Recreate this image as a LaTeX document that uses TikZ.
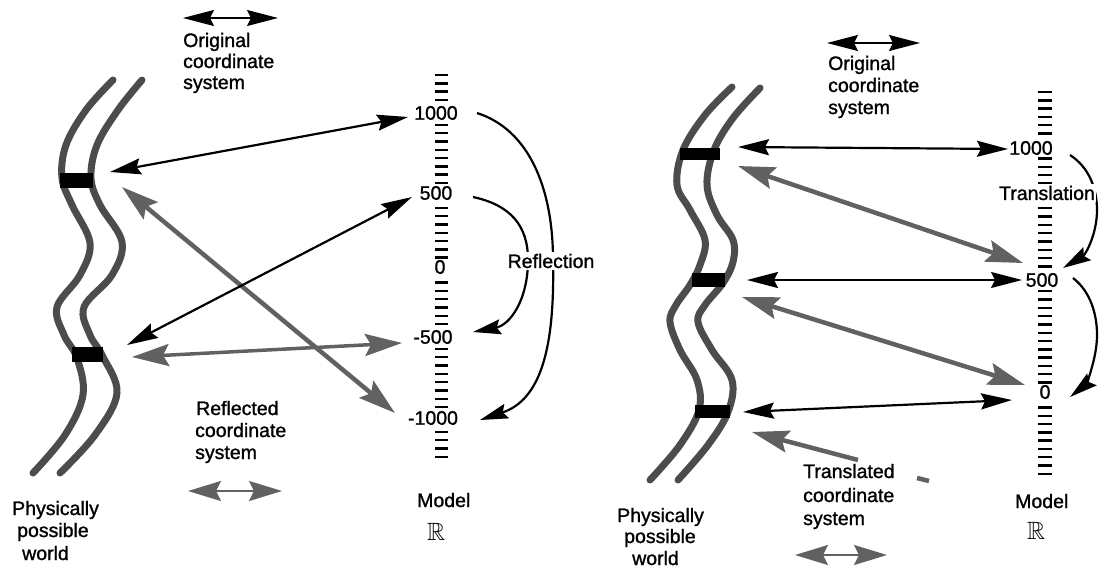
\documentclass[tikz,border=0pt]{standalone}
\usepackage{amssymb}
\usepackage{fontspec}
\setmainfont{Liberation Sans}[RawFeature={embolden=1.2}]
\usetikzlibrary{arrows.meta}
\begin{document}
\begin{tikzpicture}[x=1pt,y=-1pt,
  txt/.style={font=\fontsize{19.5}{21}\selectfont, inner sep=0pt, anchor=base west},
  num/.style={font=\fontsize{19.5}{21}\selectfont, fill=white, inner sep=0.6pt},
  zero/.style={num, minimum width=17pt},
  bb/.style={font=\fontsize{25}{25}\selectfont, inner sep=0pt, anchor=base west},
  strand/.style={line width=7pt, color=black!70, line cap=round},
  tickmark/.style={line width=2.4pt, black},
  blackarrow/.style={black, line width=2.2pt, {Stealth[length=31pt,width=16pt,inset=4pt]}-{Stealth[length=31pt,width=16pt,inset=4pt]}},
  grayarrow/.style={black!62, line width=4.5pt, {Stealth[length=37pt,width=22pt,inset=6pt]}-{Stealth[length=37pt,width=22pt,inset=6pt]}},
  graylegend/.style={black!62, line width=2.2pt, {Stealth[length=33pt,width=20pt,inset=5pt]}-{Stealth[length=33pt,width=20pt,inset=5pt]}},
  curvearrow/.style={black, line width=2.2pt, -{Stealth[length=28pt,width=15pt,inset=4pt]}},
  bar/.style={fill=black}
]
\useasboundingbox (0,0) rectangle (1099,568);

%%%%%%%%%%%%%%%% LEFT: reflection %%%%%%%%%%%%%%%%
% physically possible world
\draw[strand] plot[smooth, tension=0.6] coordinates {(113,80) (86,110) (66,145) (62,178) (72,205) (90,243) (80,275) (57,307) (64,335) (77,358) (83,395) (65,435) (33,473)};
\draw[strand] plot[smooth, tension=0.6] coordinates {(142,80) (118,110) (97,145) (91,178) (100,205) (122,242) (112,275) (84,307) (90,335) (102,355) (117,393) (95,435) (60,473)};
\fill[bar] (60,173) rectangle (93,188);
\fill[bar] (72,347) rectangle (103,362);

% ruler
\foreach \y in {75,83.3,...,462} \draw[tickmark] (435,\y) -- (448,\y);
\node[num] (L1000) at (436,113) {1000};
\node[num] (L500) at (436,193) {500};
\node[zero] (L0) at (440,267) {0};
\node[num] (Lm500) at (433,337) {-500};
\node[num] (Lm1000) at (433,418) {-1000};

\node[txt] (Lmodel) at (417,507) {Model};
\node[bb] (LR) at (427,540) {$\mathbb{R}$};

% arrows world <-> model
\coordinate (wA) at (110,172);  \coordinate (mA) at (408,117);
\coordinate (wB) at (122,187);  \coordinate (mB) at (395,413);
\coordinate (wC) at (127,345);  \coordinate (mC) at (412,197);
\coordinate (wD) at (132,357);  \coordinate (mD) at (402,343);
\draw[grayarrow] (wB) -- (mB);
\draw[blackarrow] (wA) -- (mA);
\draw[blackarrow] (wC) -- (mC);
\draw[grayarrow, line width=3.5pt] (wD) -- (mD);

% reflection curves
\coordinate (r1s) at (477,113); \coordinate (r1m) at (553,260); \coordinate (r1e) at (480,420);
\coordinate (r2s) at (473,197); \coordinate (r2m) at (528,260); \coordinate (r2e) at (473,332);
\draw[curvearrow] (r1s) .. controls (530,130) and (553,190) .. (r1m) .. controls (555,350) and (540,400) .. (r1e);
\draw[curvearrow] (r2s) .. controls (510,205) and (528,225) .. (r2m) .. controls (528,300) and (510,325) .. (r2e);
\node[num, inner sep=1.5pt] (refl) at (551,261) {Reflection};

% legends
\coordinate (oL1) at (183,18); \coordinate (oL2) at (278,18);
\draw[blackarrow, line width=1.8pt] (oL1) -- (oL2);
\node[txt] (Lo1) at (183,47) {Original};
\node[txt] (Lo2) at (183,68) {coordinate};
\node[txt] (Lo3) at (183,89) {system};

\node[txt] (Lr1) at (196,415) {Reflected};
\node[txt] (Lr2) at (195,437) {coordinate};
\node[txt] (Lr3) at (195,459) {system};
\coordinate (rL1) at (188,491); \coordinate (rL2) at (282,491);
\draw[graylegend] (rL1) -- (rL2);

\node[txt] (Lp1) at (12,515) {Physically};
\node[txt] (Lp2) at (17,537) {possible};
\node[txt] (Lp3) at (22,560) {world};

%%%%%%%%%%%%%%%% RIGHT: translation %%%%%%%%%%%%%%%%
\draw[strand] plot[smooth, tension=0.6] coordinates {(732,87) (705,115) (683,150) (677,185) (690,210) (705,240) (700,265) (690,285) (676,305) (670,322) (680,350) (697,380) (699,410) (680,445) (650,480)};
\draw[strand] plot[smooth, tension=0.6] coordinates {(760,88) (733,118) (714,150) (707,185) (717,215) (733,240) (733,262) (723,283) (705,305) (698,322) (712,350) (732,380) (728,412) (708,445) (678,480)};
\fill[bar] (680,148) rectangle (720,160);
\fill[bar] (692,273) rectangle (725,287);
\fill[bar] (695,405) rectangle (730,418);

\foreach \y in {92,100.3,...,478} \draw[tickmark] (1038,\y) -- (1052,\y);
\node[num] (R1000) at (1031,148) {1000};
\node[num] (R500) at (1042,280) {500};
\node[zero] (R0) at (1045,392) {0};

\node[txt] (Rmodel) at (1015,508) {Model};
\node[bb] (RR) at (1027,539) {$\mathbb{R}$};

\coordinate (wE) at (738,147);  \coordinate (mE) at (1008,149);
\coordinate (wF) at (738,166);  \coordinate (mF) at (1023,263);
\coordinate (wG) at (747,280);  \coordinate (mG) at (1022,280);
\coordinate (wH) at (742,297);  \coordinate (mH) at (1025,385);
\coordinate (wI) at (743,412);  \coordinate (mI) at (1012,400);
\coordinate (wJ) at (752,432);  \coordinate (tJ) at (858,460);
\draw[grayarrow] (wF) -- (mF);
\draw[grayarrow] (wH) -- (mH);
\draw[blackarrow] (wE) -- (mE);
\draw[blackarrow] (wG) -- (mG);
\draw[blackarrow] (wI) -- (mI);
\draw[black!62, line width=4.5pt, {Stealth[length=37pt,width=22pt,inset=6pt]}-] (wJ) -- (tJ);
\draw[black!62, line width=4.5pt] (917,478) -- (929,481);

% translation curves
\coordinate (t1s) at (1070,155); \coordinate (t1m) at (1097,210); \coordinate (t1e) at (1063,268);
\coordinate (t2s) at (1073,278); \coordinate (t2m) at (1097,335); \coordinate (t2e) at (1070,397);
\draw[curvearrow] (t1s) .. controls (1090,168) and (1097,190) .. (t1m) .. controls (1097,235) and (1085,255) .. (t1e);
\draw[curvearrow] (t2s) .. controls (1091,292) and (1097,315) .. (t2m) .. controls (1097,360) and (1085,385) .. (t2e);
\node[num, inner sep=1.5pt] (transl) at (1047,193) {Translation};

% legends
\coordinate (oR1) at (827,43); \coordinate (oR2) at (920,43);
\draw[blackarrow, line width=1.8pt] (oR1) -- (oR2);
\node[txt] (Ro1) at (828,70) {Original};
\node[txt] (Ro2) at (828,92) {coordinate};
\node[txt] (Ro3) at (828,114) {system};

\node[txt] (Rt1) at (803,478) {Translated};
\node[txt] (Rt2) at (803,502) {coordinate};
\node[txt] (Rt3) at (803,525) {system};
\coordinate (tL1) at (795,555); \coordinate (tL2) at (887,555);
\draw[graylegend] (tL1) -- (tL2);

\node[txt] (Rp1) at (617,522) {Physically};
\node[txt] (Rp2) at (624,543) {possible};
\node[txt] (Rp3) at (632,565) {world};
\end{tikzpicture}
\end{document}
